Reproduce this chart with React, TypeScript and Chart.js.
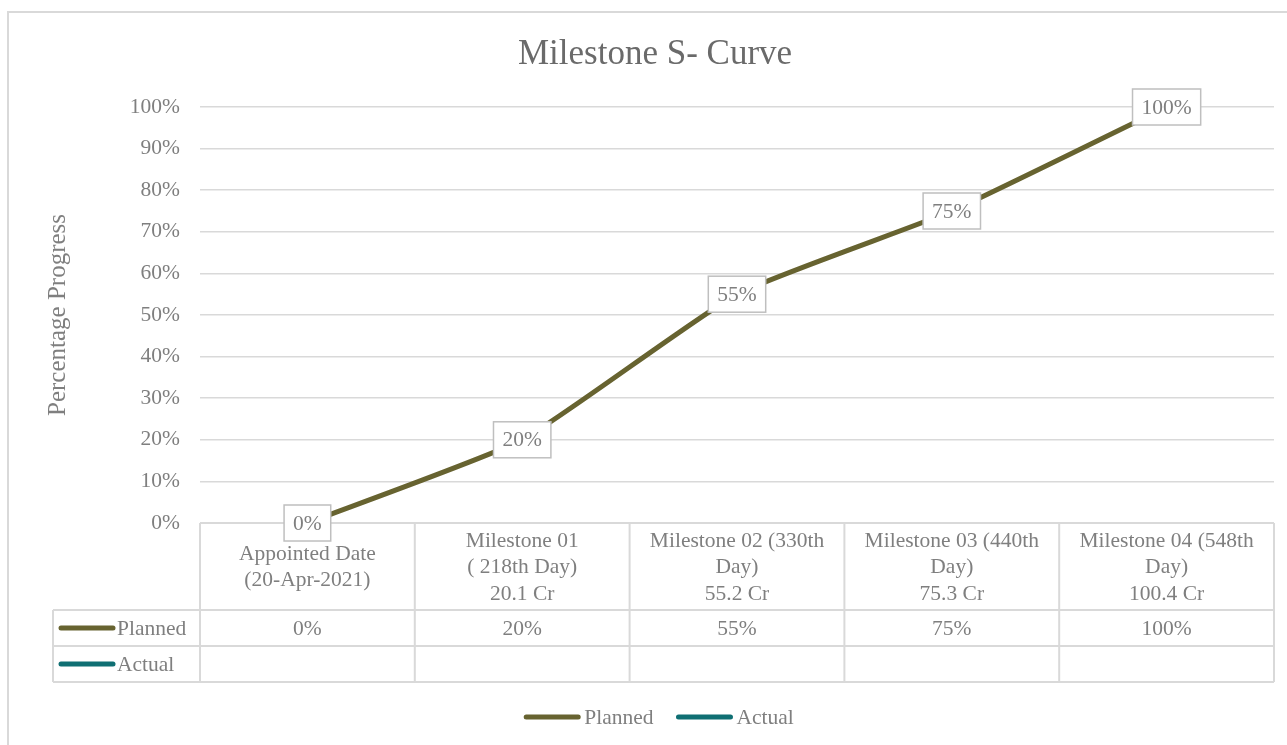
import React, { useEffect, useRef } from "react";
import { Chart, registerables } from "chart.js";
Chart.register(...registerables);

const chartTitle = "Milestone S- Curve";
const yAxisTitle = "Percentage Progress";
const categories: string[][] = [
  ["Appointed Date", "(20-Apr-2021)"],
  ["Milestone 01", "( 218th Day)", "20.1 Cr"],
  ["Milestone 02 (330th", "Day)", "55.2 Cr"],
  ["Milestone 03 (440th", "Day)", "75.3 Cr"],
  ["Milestone 04 (548th", "Day)", "100.4 Cr"],
];
const seriesNames = ["Planned", "Actual"];
const planned: (number | null)[] = [0, 0.2, 0.55, 0.75, 1.0];
const actual: (number | null)[] = [null, null, null, null, null];
const seriesColors = ["#676330", "#0f6f73"];
const yMin = 0;
const yMax = 1;
const yStep = 0.1;

const FONT = '"Liberation Serif", "Times New Roman", serif';
const TEXT = "#7f7f7f";
const LINE = "#d9d9d9";
const FS = 21.5;

const pct = (v: number) => `${Math.round(v * 100)}%`;

const customPlugin = {
  id: "excelTable",
  beforeDraw(chart: any) {
    const ctx = chart.ctx;
    ctx.save();
    ctx.strokeStyle = LINE;
    ctx.lineWidth = 2;
    ctx.strokeRect(8, 12, 1310, 780);
    ctx.fillStyle = "#6a6a6a";
    ctx.font = `35px ${FONT}`;
    ctx.textAlign = "center";
    ctx.textBaseline = "middle";
    ctx.fillText(chartTitle, 655, 55);
    ctx.restore();
  },
  afterDraw(chart: any) {
    const ctx = chart.ctx;
    const xs = chart.scales.x;
    const area = chart.chartArea;
    const n = chart.data.labels.length;
    const colW = (area.right - area.left) / n;
    const top = area.bottom;
    const headerBottom = top + 87;
    const rowH = 36;
    const nRows = chart.data.datasets.length;
    const tableBottom = headerBottom + rowH * nRows;
    const tableLeft = 53;
    ctx.save();
    ctx.strokeStyle = LINE;
    ctx.lineWidth = 2;
    ctx.beginPath();
    for (let i = 0; i <= n; i++) {
      const x = i < n ? xs.getPixelForValue(i) - colW / 2 : xs.getPixelForValue(n - 1) + colW / 2;
      ctx.moveTo(x, top);
      ctx.lineTo(x, tableBottom);
    }
    ctx.moveTo(area.left, top);
    ctx.lineTo(area.right, top);
    ctx.moveTo(tableLeft, headerBottom);
    ctx.lineTo(tableLeft, tableBottom);
    for (let r = 0; r <= nRows; r++) {
      const y = headerBottom + r * rowH;
      ctx.moveTo(tableLeft, y);
      ctx.lineTo(area.right, y);
    }
    ctx.stroke();

    // header text
    ctx.fillStyle = TEXT;
    ctx.font = `${FS}px ${FONT}`;
    ctx.textAlign = "center";
    ctx.textBaseline = "middle";
    const lh = 26.5;
    const cy = (top + headerBottom) / 2 + 1;
    chart.data.labels.forEach((lab: string[], i: number) => {
      const x = xs.getPixelForValue(i);
      const lines = Array.isArray(lab) ? lab : [lab];
      const y0 = cy - ((lines.length - 1) * lh) / 2;
      lines.forEach((l, k) => ctx.fillText(l, x, y0 + k * lh));
    });

    // rows
    chart.data.datasets.forEach((ds: any, di: number) => {
      const yc = headerBottom + di * rowH + rowH / 2;
      ctx.strokeStyle = ds.borderColor;
      ctx.lineWidth = 5;
      ctx.lineCap = "round";
      ctx.beginPath();
      ctx.moveTo(61, yc);
      ctx.lineTo(113, yc);
      ctx.stroke();
      ctx.fillStyle = TEXT;
      ctx.textAlign = "left";
      ctx.fillText(ds.label, 117, yc + 1);
      ctx.textAlign = "center";
      ds.data.forEach((v: number | null, i: number) => {
        if (v === null || v === undefined) return;
        ctx.fillText(pct(v), xs.getPixelForValue(i), yc + 1);
      });
    });

    // data labels
    chart.data.datasets.forEach((ds: any, di: number) => {
      const meta = chart.getDatasetMeta(di);
      ds.data.forEach((v: number | null, i: number) => {
        if (v === null || v === undefined) return;
        const pt = meta.data[i];
        const txt = pct(v);
        const w = ctx.measureText(txt).width + 18;
        const h = 36;
        ctx.fillStyle = "#ffffff";
        ctx.fillRect(pt.x - w / 2, pt.y - h / 2, w, h);
        ctx.strokeStyle = "#bfbfbf";
        ctx.lineWidth = 1.5;
        ctx.strokeRect(pt.x - w / 2, pt.y - h / 2, w, h);
        ctx.fillStyle = TEXT;
        ctx.textAlign = "center";
        ctx.fillText(txt, pt.x, pt.y + 1);
      });
    });

    // bottom legend
    const ly = 717;
    const lineLen = 56;
    const gap = 4;
    const itemGap = 23;
    const items = chart.data.datasets.map((ds: any) => ({
      label: ds.label,
      color: ds.borderColor,
      w: lineLen + gap + ctx.measureText(ds.label).width,
    }));
    const total = items.reduce((s: number, it: any) => s + it.w, 0) + itemGap * (items.length - 1);
    let lx = 659 - total / 2;
    items.forEach((it: any) => {
      ctx.strokeStyle = it.color;
      ctx.lineWidth = 5;
      ctx.lineCap = "round";
      ctx.beginPath();
      ctx.moveTo(lx + 2, ly);
      ctx.lineTo(lx + lineLen - 2, ly);
      ctx.stroke();
      ctx.fillStyle = TEXT;
      ctx.textAlign = "left";
      ctx.fillText(it.label, lx + lineLen + gap, ly + 1);
      lx += it.w + itemGap;
    });
    ctx.restore();
  },
};

export default function App() {
  const ref = useRef<HTMLCanvasElement | null>(null);
  useEffect(() => {
    if (!ref.current) return;
    const chart = new Chart(ref.current, {
      type: "line",
      data: {
        labels: categories as any,
        datasets: [
          {
            label: seriesNames[0],
            data: planned,
            borderColor: seriesColors[0],
            backgroundColor: seriesColors[0],
            borderWidth: 5,
            pointRadius: 0,
            tension: 0.15,
            borderCapStyle: "round",
          },
          {
            label: seriesNames[1],
            data: actual,
            borderColor: seriesColors[1],
            backgroundColor: seriesColors[1],
            borderWidth: 5,
            pointRadius: 0,
            tension: 0.15,
          },
        ],
      },
      options: {
        animation: false,
        responsive: false,
        devicePixelRatio: 1,
        layout: { padding: { left: 0, top: 107, right: 13, bottom: 222 } },
        plugins: {
          legend: { display: false },
          title: { display: false },
          tooltip: { enabled: false },
        },
        scales: {
          x: {
            type: "category",
            display: false,
            offset: true,
          },
          y: {
            min: yMin,
            max: yMax,
            afterFit: (axis: any) => {
              axis.width = 200;
            },
            border: { display: false },
            grid: { color: LINE, lineWidth: 1.5, drawTicks: false },
            ticks: {
              stepSize: yStep,
              padding: 20,
              color: TEXT,
              font: { family: FONT, size: FS },
              callback: (v: any) => pct(Number(v)),
            },
            title: {
              display: true,
              text: yAxisTitle,
              color: TEXT,
              font: { family: FONT, size: 25 },
              padding: { top: 43, bottom: 0 },
            },
          },
        },
      },
      plugins: [customPlugin],
    });
    return () => chart.destroy();
  }, []);
  return (
    <div style={{ position: "fixed", left: 0, top: 0, width: 1287, height: 745, overflow: "hidden", background: "#fff" }}>
      <canvas ref={ref} width={1287} height={745} style={{ display: "block" }} />
    </div>
  );
}
